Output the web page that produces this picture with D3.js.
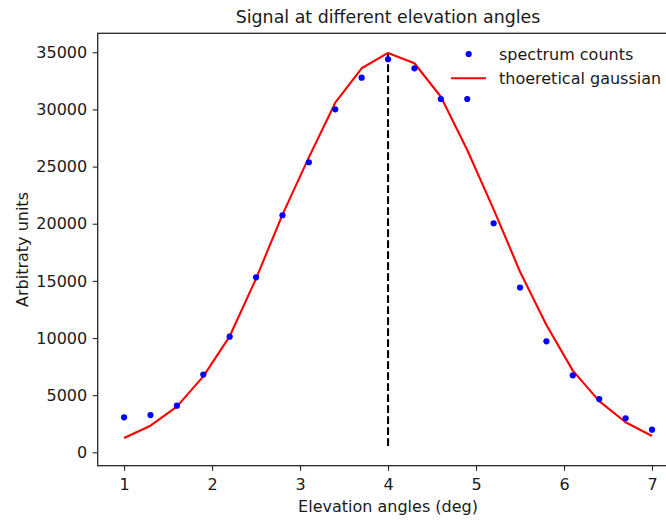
<!DOCTYPE html>
<html>
<head>
<meta charset="utf-8">
<script src="https://cdn.jsdelivr.net/npm/d3@7"></script>
<style>
  html, body { margin: 0; padding: 0; background: #fff; }
  svg { display: block; font-family: "DejaVu Sans", sans-serif; }
</style>
</head>
<body>
<svg id="chart" width="666" height="520"></svg>
<script>
// ---- data ----
const angles = [1.0, 1.3, 1.6, 1.9, 2.2, 2.5, 2.8, 3.1, 3.4, 3.7, 4.0, 4.3, 4.6, 4.9, 5.2, 5.5, 5.8, 6.1, 6.4, 6.7, 7.0];
const spectrumCounts = [3060, 3260, 4080, 6800, 10120, 15310, 20740, 25380, 30010, 32780, 34390, 33600, 30910, 30910, 20040, 14420, 9710, 6740, 4660, 2980, 1980];
const gaussianFit = [1250, 2330, 4000, 6650, 10150, 15200, 20800, 25800, 30590, 33600, 34940, 34040, 31110, 26450, 21260, 15800, 11140, 7150, 4480, 2630, 1430];
const peakAngle = 4.0;
const vlineRange = [550, 34940];
const xTicks = [1, 2, 3, 4, 5, 6, 7];
const yTicks = [0, 5000, 10000, 15000, 20000, 25000, 30000, 35000];
const legendLabels = ["spectrum counts", "thoeretical gaussian"];

(function () {
// ---- layout ----
const svg = d3.select("#chart");
const mLeft = 97.7, mRight = 678.4, mTop = 33.3, mBottom = 465.7;

const x = d3.scaleLinear().domain([0.7, 7.3]).range([mLeft, mRight]);
const y = d3.scaleLinear().domain([-1170, 36660]).range([mBottom, mTop]);

const spineColor = "#262626";
const textColor = "#1a1a1a";

// title
svg.append("text")
  .attr("x", (mLeft + mRight) / 2).attr("y", 23)
  .attr("text-anchor", "middle")
  .attr("font-size", "17.4px").attr("fill", textColor)
  .text("Signal at different elevation angles");

// clip (axes area)
svg.append("clipPath").attr("id", "clip")
  .append("rect").attr("x", mLeft).attr("y", mTop).attr("width", mRight - mLeft).attr("height", mBottom - mTop);

const plot = svg.append("g").attr("clip-path", "url(#clip)");

// dashed vertical line
plot.append("line")
  .attr("x1", x(peakAngle)).attr("x2", x(peakAngle))
  .attr("y1", y(vlineRange[0])).attr("y2", y(vlineRange[1]))
  .attr("stroke", "#000").attr("stroke-width", 2.1)
  .attr("stroke-dasharray", "7.7,3.3");

// gaussian line
const line = d3.line().x((d, i) => x(angles[i])).y(d => y(d));
plot.append("path")
  .datum(gaussianFit)
  .attr("d", line)
  .attr("fill", "none").attr("stroke", "#ff0000").attr("stroke-width", 2.1)
  .attr("stroke-linejoin", "round");

// points
plot.selectAll("circle.pt")
  .data(spectrumCounts)
  .join("circle")
  .attr("class", "pt")
  .attr("cx", (d, i) => x(angles[i]))
  .attr("cy", d => y(d))
  .attr("r", 3.1)
  .attr("fill", "#0000ff");

// axes
const xAxis = d3.axisBottom(x).tickValues(xTicks).tickSize(5).tickPadding(8).tickFormat(d3.format("d"));
const yAxis = d3.axisLeft(y).tickValues(yTicks).tickSize(5).tickPadding(5.5).tickFormat(d3.format("d"));

const gx = svg.append("g").attr("transform", `translate(0,${mBottom})`).call(xAxis);
const gy = svg.append("g").attr("transform", `translate(${mLeft},0)`).call(yAxis);
[gx, gy].forEach(g => {
  g.select(".domain").remove();
  g.selectAll(".tick line").attr("stroke", spineColor).attr("stroke-width", 1.1);
  g.selectAll(".tick text").attr("font-size", "16px").attr("fill", textColor)
    .attr("font-family", "DejaVu Sans, sans-serif");
});

// spines
svg.append("rect")
  .attr("x", mLeft).attr("y", mTop).attr("width", mRight - mLeft).attr("height", mBottom - mTop)
  .attr("fill", "none").attr("stroke", spineColor).attr("stroke-width", 1.3);

// axis labels
svg.append("text")
  .attr("x", (mLeft + mRight) / 2).attr("y", 512)
  .attr("text-anchor", "middle").attr("font-size", "16px").attr("fill", textColor)
  .text("Elevation angles (deg)");
svg.append("text")
  .attr("transform", `translate(28,${(mTop + mBottom) / 2}) rotate(-90)`)
  .attr("text-anchor", "middle").attr("font-size", "16px").attr("fill", textColor)
  .text("Arbitraty units");

// legend
const lg = svg.append("g");
lg.append("circle").attr("cx", 468.7).attr("cy", 54).attr("r", 3.1).attr("fill", "#0000ff");
lg.append("line").attr("x1", 451).attr("x2", 486).attr("y1", 78.3).attr("y2", 78.3)
  .attr("stroke", "#ff0000").attr("stroke-width", 2.1);
lg.selectAll("text.lg")
  .data(legendLabels)
  .join("text")
  .attr("class", "lg")
  .attr("x", 499)
  .attr("y", (d, i) => 54 + i * 24.3)
  .attr("dy", "0.35em")
  .attr("font-size", "16px").attr("fill", textColor)
  .text(d => d);
})();
</script>
</body>
</html>
